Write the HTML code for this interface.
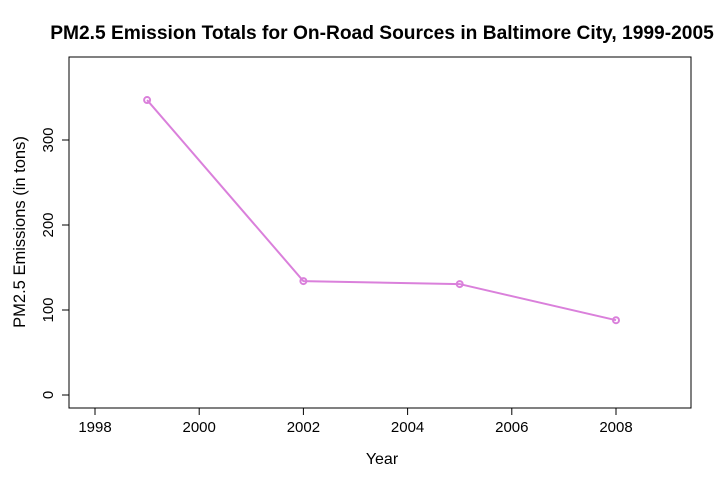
<!DOCTYPE html>
<html><head><meta charset="utf-8"><style>
body{margin:0;background:#fff;}
svg text{font-family:"Liberation Sans",Arial,sans-serif;fill:#000;}
</style></head><body>
<svg id="chart" width="720" height="480">
<text x="382" y="39" text-anchor="middle" font-size="19.2" font-weight="bold">PM2.5 Emission Totals for On-Road Sources in Baltimore City, 1999-2005</text>
<rect x="69" y="57" width="622" height="351" fill="none" stroke="#000" stroke-width="1"/>
<g id="xaxis"></g>
<g id="yaxis"></g>
<text x="382" y="464" text-anchor="middle" font-size="16">Year</text>
<text transform="translate(25,232) rotate(-90)" text-anchor="middle" font-size="16.5">PM2.5 Emissions (in tons)</text>
<g id="series"></g>
</svg>
<script>
const years=[1999,2002,2005,2008];
const emissions=[347,134,130.5,88];
const xTicks=[1998,2000,2002,2004,2006,2008];
const yTicks=[0,100,200,300];
const NS="http://www.w3.org/2000/svg";
function xs(v){return 95+(v-1998)*52.1;}
function ys(v){return 395-v*0.85;}
function mk(t,a,p){const e=document.createElementNS(NS,t);for(const k in a)e.setAttribute(k,a[k]);p.appendChild(e);return e;}
const xa=document.getElementById('xaxis');
mk('line',{x1:xs(1998),x2:xs(2008),y1:408,y2:408,stroke:'#000'},xa);
xTicks.forEach(t=>{
 const l=mk('line',{x1:xs(t),x2:xs(t),y1:408,y2:415,stroke:'#000'},xa);
 
 
 const tx=mk('text',{x:xs(t),y:432,'text-anchor':'middle','font-size':'15'},xa);
 tx.textContent=t;
 
 
});
const ya=document.getElementById('yaxis');
mk('line',{x1:69,x2:69,y1:ys(0),y2:ys(300),stroke:'#000'},ya);
yTicks.forEach(t=>{
 const l=mk('line',{x1:62,x2:69,y1:ys(t),y2:ys(t),stroke:'#000'},ya);
 
 
 const tx=mk('text',{transform:`translate(53,${ys(t)}) rotate(-90)`,'text-anchor':'middle','font-size':'15'},ya);
 tx.textContent=t;
 
 
});
const s=document.getElementById('series');
const pl=mk('polyline',{points:years.map((y,i)=>xs(y)+','+ys(emissions[i])).join(' '),fill:'none',stroke:'#DA80DB','stroke-width':'2'},s);


years.forEach((y,i)=>{
 const c=mk('circle',{cx:xs(y),cy:ys(emissions[i]),r:3,fill:'none',stroke:'#DA80DB','stroke-width':'2'},s);
 
 
});
</script>
</body></html>
